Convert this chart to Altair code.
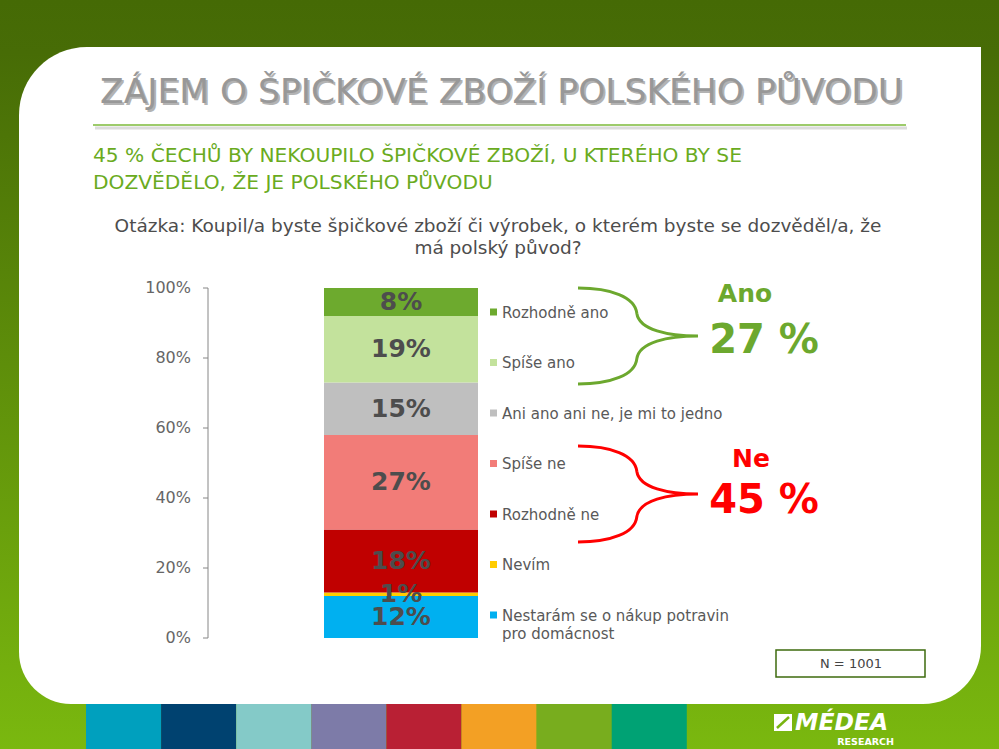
import altair as alt
import pandas as pd

# ---------------- data ----------------
categories = [
    "Nestarám se o nákup potravin\npro domácnost",
    "Nevím",
    "Rozhodně ne",
    "Spíše ne",
    "Ani ano ani ne, je mi to jedno",
    "Spíše ano",
    "Rozhodně ano",
]
values = [12, 1, 18, 27, 15, 19, 8]
colors = ["#00B0F0", "#FFCC00", "#C00000", "#F27C78", "#BFBFBF", "#C3E29C", "#6DAA2E"]
y_ticks = [0, 20, 40, 60, 80, 100]
strip_colors = ["#00A0BE", "#004270", "#84CAC8", "#7D7BA8", "#B92034", "#F3A024", "#78AD1E", "#00A274"]

title_text = "ZÁJEM O ŠPIČKOVÉ ZBOŽÍ POLSKÉHO PŮVODU"
subtitle_lines = ["45 % ČECHŮ BY NEKOUPILO ŠPIČKOVÉ ZBOŽÍ, U KTERÉHO BY SE",
                  "DOZVĚDĚLO, ŽE JE POLSKÉHO PŮVODU"]
question_lines = ["Otázka: Koupil/a byste špičkové zboží či výrobek, o kterém byste se dozvěděl/a, že",
                  "má polský původ?"]
ano_label, ano_value = "Ano", "27 %"
ne_label, ne_value = "Ne", "45 %"
n_text = "N = 1001"

FONT = "DejaVu Sans"

df = pd.DataFrame({"category": categories, "value": values, "color": colors,
                   "order": list(range(len(categories)))})
ticks_df = pd.DataFrame({"t": y_ticks})
one = pd.DataFrame({"a": [0]})

# ---------------- decorations ----------------
bg = alt.Chart(one).mark_rect(
    color=alt.Gradient(gradient="linear",
                       stops=[alt.GradientStop(color="#456A05", offset=0),
                              alt.GradientStop(color="#476C06", offset=0.07),
                              alt.GradientStop(color="#7AB80F", offset=1)],
                       x1=0, x2=0, y1=0, y2=1)
).encode(x=alt.value(0), x2=alt.value(999), y=alt.value(0), y2=alt.value(749))

strips = alt.Chart(pd.DataFrame({"c": strip_colors, "i": list(range(len(strip_colors)))})).transform_calculate(
    sx="86 + datum.i * 75.1", sx2="86 + (datum.i + 1) * 75.1"
).mark_rect().encode(
    x=alt.X("sx:Q", scale=None, axis=None), x2="sx2:Q",
    y=alt.value(703), y2=alt.value(749),
    color=alt.Color("c:N", scale=None),
)

panel = alt.Chart(one).mark_rect(
    color="white", cornerRadiusTopLeft=68, cornerRadiusTopRight=0,
    cornerRadiusBottomLeft=52, cornerRadiusBottomRight=58
).encode(x=alt.value(19), x2=alt.value(981), y=alt.value(47), y2=alt.value(704))

title_shadow = alt.Chart(one).mark_text(
    text=title_text, font=FONT, fontSize=34.5, color="#6A6A6A", opacity=0.5, align="center", baseline="alphabetic"
).encode(x=alt.value(503.5), y=alt.value(104.5))
title = alt.Chart(one).mark_text(
    text=title_text, font=FONT, fontSize=34.5, color="#989898", align="center", baseline="alphabetic"
).encode(x=alt.value(501.5), y=alt.value(102.5))

rule_shadow = alt.Chart(one).mark_rule(color="#DCDCDC", strokeWidth=3).encode(
    x=alt.value(95), x2=alt.value(907), y=alt.value(128))
rule = alt.Chart(one).mark_rule(color="#9DCB6B", strokeWidth=2).encode(
    x=alt.value(93), x2=alt.value(906), y=alt.value(125))

subtitle = alt.Chart(one).mark_text(
    text=subtitle_lines, font=FONT, fontSize=20.2, color="#6AAB1E", align="left",
    baseline="alphabetic", lineHeight=27
).encode(x=alt.value(93), y=alt.value(162))

question = alt.Chart(one).mark_text(
    text=question_lines, font=FONT, fontSize=18.5, color="#4D4D4D", align="center",
    baseline="alphabetic", lineHeight=22
).encode(x=alt.value(498), y=alt.value(232))

# ---------------- bar & y axis ----------------
yscale = alt.Scale(domain=[0, 100], range=[638, 288])

axis_line = alt.Chart(ticks_df).mark_rule(color="#868686", strokeWidth=1).encode(
    x=alt.value(208), y=alt.Y("min(t):Q", scale=yscale, axis=None), y2="max(t):Q")
axis_ticks = alt.Chart(ticks_df).mark_rule(color="#868686", strokeWidth=1).encode(
    x=alt.value(203), x2=alt.value(208), y=alt.Y("t:Q", scale=yscale, axis=None))
axis_labels = alt.Chart(ticks_df).transform_calculate(lab="datum.t + '%'").mark_text(
    font=FONT, fontSize=16, color="#666666", align="right", baseline="middle"
).encode(x=alt.value(191), y=alt.Y("t:Q", scale=yscale, axis=None), text="lab:N")

stacked = alt.Chart(df).transform_stack(
    stack="value", groupby=[], as_=["y0", "y1"], sort=[alt.SortField("order", order="ascending")]
).transform_calculate(mid="(datum.y0 + datum.y1) / 2", label="datum.value + '%'")

bars = stacked.mark_rect().encode(
    x=alt.value(324), x2=alt.value(478),
    y=alt.Y("y0:Q", scale=yscale, axis=None),
    y2="y1:Q",
    color=alt.Color("color:N", scale=None),
)

bar_labels = stacked.mark_text(
    font=FONT, fontSize=25, fontWeight="bold", color="#4D4D4D", align="center", baseline="middle"
).encode(x=alt.value(401), y=alt.Y("mid:Q", scale=yscale, axis=None), text="label:N")

# ---------------- legend ----------------
leg = alt.Chart(df).transform_calculate(ly="312 + (6 - datum.order) * 50.5", ty="317.5 + (6 - datum.order) * 50.5")
leg_sq = leg.mark_square(size=49, opacity=1).encode(
    x=alt.value(493.5), y=alt.Y("ly:Q", scale=None, axis=None), color=alt.Color("color:N", scale=None))
leg_txt = leg.mark_text(
    font=FONT, fontSize=15, color="#595959", align="left", baseline="alphabetic",
    lineBreak="\n", lineHeight=18
).encode(x=alt.value(502), y=alt.Y("ty:Q", scale=None, axis=None), text="category:N")

# ---------------- braces & totals ----------------
BRACE = ("M -1 -0.8 C -0.45 -0.8 -0.05 -0.65 -0.02 -0.38 C 0.02 -0.1 0.5 0 1 0 "
         "C 0.5 0 0.02 0.1 -0.02 0.38 C -0.05 0.65 -0.45 0.8 -1 0.8")
brace_g = alt.Chart(one).mark_point(shape=BRACE, filled=False, size=14400, stroke="#6CA82E",
                                    strokeWidth=3, opacity=1).encode(x=alt.value(638), y=alt.value(336))
brace_r = alt.Chart(one).mark_point(shape=BRACE, filled=False, size=14400, stroke="#FF0000",
                                    strokeWidth=3, opacity=1).encode(x=alt.value(638), y=alt.value(494))

def label(txt, x, y, size, col):
    return alt.Chart(one).mark_text(text=txt, font=FONT, fontSize=size, fontWeight="bold", color=col,
                                    align="center", baseline="alphabetic").encode(x=alt.value(x), y=alt.value(y))

t_ano = label(ano_label, 745, 302, 25, "#6CA82E")
t_ano_v = label(ano_value, 764, 353, 40, "#6CA82E")
t_ne = label(ne_label, 751, 467, 25, "#FF0000")
t_ne_v = label(ne_value, 764, 513, 40, "#FF0000")

# ---------------- N box ----------------
nbox = alt.Chart(one).mark_rect(fill="white", stroke="#3E6B0E", strokeWidth=1.5).encode(
    x=alt.value(776), x2=alt.value(925), y=alt.value(650), y2=alt.value(677))
ntext = alt.Chart(one).mark_text(text=n_text, font=FONT, fontSize=13, color="#444444",
                                 align="center", baseline="middle").encode(x=alt.value(851), y=alt.value(664))

# ---------------- logo ----------------
logo_icon = alt.Chart(one).mark_rect(color="white").encode(
    x=alt.value(774), x2=alt.value(792), y=alt.value(714), y2=alt.value(731))
logo_slash = alt.Chart(one).mark_rule(color="#78B410", strokeWidth=2.5).encode(
    x=alt.value(777), x2=alt.value(789), y=alt.value(728), y2=alt.value(717))
logo = alt.Chart(one).mark_text(text="MÉDEA", font=FONT, fontSize=23.5, fontWeight="bold", fontStyle="italic",
                                color="white", align="left", baseline="alphabetic").encode(
    x=alt.value(795), y=alt.value(730))
logo2 = alt.Chart(one).mark_text(text="RESEARCH", font=FONT, fontSize=9.5, fontWeight="bold",
                                 color="white", align="right", baseline="alphabetic").encode(
    x=alt.value(894), y=alt.value(745))

chart = alt.layer(
    bg, strips, panel, title_shadow, title, rule_shadow, rule, subtitle, question,
    axis_line, axis_ticks, axis_labels,
    bars, bar_labels, leg_sq, leg_txt, brace_g, brace_r, t_ano, t_ano_v, t_ne, t_ne_v,
    nbox, ntext, logo_icon, logo_slash, logo, logo2
).properties(
    width=999, height=749, padding=0,
    autosize=alt.AutoSizeParams(type="none"),
).configure_view(strokeWidth=0)

chart.save("out.html", embed_options={"renderer": "svg", "actions": False})
